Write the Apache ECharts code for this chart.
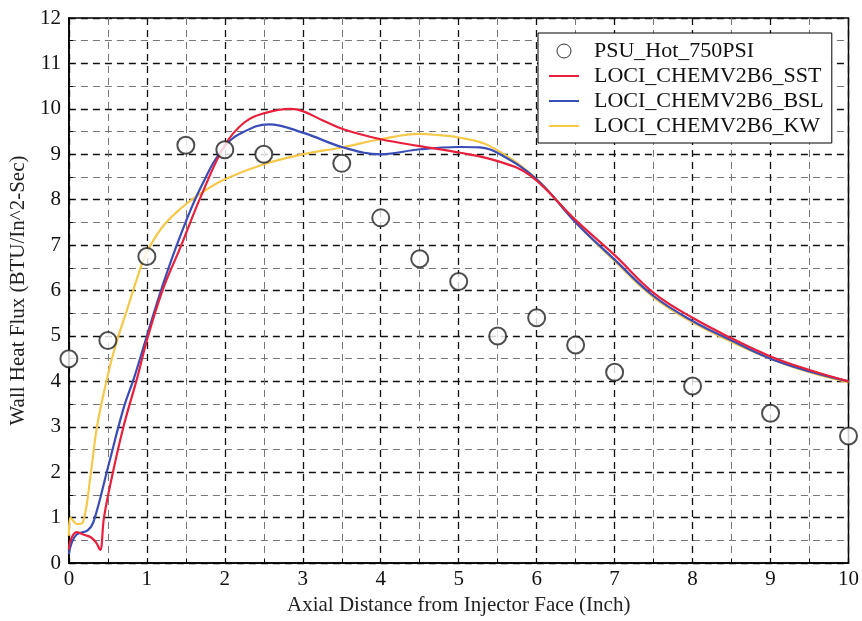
<!DOCTYPE html>
<html><head><meta charset="utf-8">
<script src="https://cdn.jsdelivr.net/npm/echarts@6/dist/echarts.min.js"></script>
<style>html,body{margin:0;padding:0;background:#fff}#c{width:862px;height:621px}</style>
</head><body><div id="c"></div>
<script>
var expX = [0,0.5,1,1.5,2,2.5,3.5,4,4.5,5,5.5,6,6.5,7,8,9,10];
var expY = [4.5,4.9,6.75,9.2,9.1,9.0,8.8,7.6,6.7,6.2,5.0,5.4,4.8,4.2,3.9,3.3,2.8];

var sstX = [0,0.02,0.1,0.2,0.28,0.35,0.4,0.45,0.54,0.7,0.88,1.0,1.2,1.43,1.7,2.0,2.25,2.5,2.84,3.0,3.25,3.52,4.0,4.5,5.0,5.5,5.92,6.5,7.0,7.5,8.0,8.5,9.0,9.5,10];
var sstY = [0.3,0.5,0.68,0.62,0.57,0.45,0.29,1.0,1.8,3.0,4.1,4.9,6.0,6.95,8.1,9.2,9.7,9.9,10.0,9.95,9.75,9.55,9.33,9.18,9.04,8.85,8.53,7.55,6.78,5.95,5.4,4.95,4.55,4.25,4.0];

var bslX = [0,0.03,0.1,0.24,0.32,0.5,0.7,0.84,1.0,1.2,1.43,1.7,2.0,2.25,2.56,3.01,3.52,4.0,4.5,5.0,5.27,5.53,6.0,6.5,7.0,7.5,8.0,8.5,9.0,9.5,10];
var bslY = [0.2,0.42,0.63,0.72,0.93,2.1,3.4,4.1,5.0,6.1,7.21,8.3,9.18,9.5,9.66,9.47,9.15,9.0,9.11,9.16,9.15,9.0,8.45,7.5,6.68,5.88,5.33,4.9,4.5,4.22,4.0];

var kwX = [0,0.02,0.11,0.18,0.28,0.36,0.49,0.6,0.75,0.9,1.0,1.2,1.43,1.7,2.0,2.5,3.0,3.5,4.0,4.5,4.75,5.0,5.4,6.0,6.5,7.0,7.5,8.0,8.5,9.0,9.5,10];
var kwY = [0.6,1.0,0.86,0.9,1.96,3.0,4.07,4.8,5.6,6.4,6.85,7.4,7.8,8.15,8.45,8.78,9.0,9.15,9.33,9.45,9.42,9.37,9.18,8.45,7.5,6.65,5.85,5.3,4.87,4.5,4.2,3.98];

var names = ['PSU_Hot_750PSI','LOCI_CHEMV2B6_SST','LOCI_CHEMV2B6_BSL','LOCI_CHEMV2B6_KW'];
var xTicks = [0,1,2,3,4,5,6,7,8,9,10];
var yTicks = [0,1,2,3,4,5,6,7,8,9,10,11,12];

function pairs(xs, ys){ return xs.map(function(x,i){ return [x, ys[i]]; }); }

var font = 'Liberation Serif';
var chart = echarts.init(document.getElementById('c'), null, {renderer:'canvas'});
function axis(name, ticks, isY){
  return {
    type:'value', min:ticks[0], max:ticks[ticks.length-1], interval:1,
    name:name, nameLocation:'middle', nameGap: isY ? 36 : 30,
    nameTextStyle:{fontFamily:font, fontSize:21, color:'#222'},
    axisLine:{show:true, lineStyle:{color:'#000', width:1.5}},
    axisTick:{show:true, inside:true, length:5, lineStyle:{color:'#000'}},
    minorTick:{show:true, splitNumber:2, length:4, lineStyle:{color:'#000'}},
    axisLabel:{fontFamily:font, fontSize:21, color:'#111', margin: isY ? 8 : 6},
    splitLine:{show:true, lineStyle:{color:'#111', type:[7,5], width:1.3}},
    minorSplitLine:{show:true, lineStyle:{color:'#777', type:[7,5], width:1}}
  };
}
chart.setOption({
  animation:false,
  backgroundColor:'#fff',
  grid:{left:68, right:13, top:18, bottom:55, show:true, borderColor:'#000', borderWidth:1.5, backgroundColor:'transparent'},
  xAxis: axis('Axial Distance from Injector Face (Inch)', xTicks, false),
  yAxis: axis('Wall Heat Flux (BTU/In^2-Sec)', yTicks, true),
  legend:{
    orient:'vertical', left:538, top:33,
    backgroundColor:'#fff', borderColor:'#000', borderWidth:1, padding:[7,8,6,10],
    itemWidth:30, itemHeight:14, itemGap:3,
    textStyle:{fontFamily:font, fontSize:22, color:'#111', padding:[0,0,0,10]},
    data:[
      {name:names[0], icon:'circle', itemStyle:{color:'transparent', borderColor:'#000', borderWidth:1}},
      {name:names[1], itemStyle:{opacity:0}},
      {name:names[2], itemStyle:{opacity:0}},
      {name:names[3], itemStyle:{opacity:0}}
    ]
  },
  series:[
    {name:names[0], type:'scatter', data:pairs(expX, expY), symbol:'emptyCircle', symbolSize:17,
     itemStyle:{color:'#222', borderColor:'#222', borderWidth:1.2}, z:5},
    {name:names[3], type:'line', data:pairs(kwX, kwY), smooth:0.4, symbol:'none', color:'#f5c84a', lineStyle:{width:2.2}},
    {name:names[2], type:'line', data:pairs(bslX, bslY), smooth:0.4, symbol:'none', color:'#3a4cb5', lineStyle:{width:2.2}},
    {name:names[1], type:'line', data:pairs(sstX, sstY), smooth:0.4, symbol:'none', color:'#e8203c', lineStyle:{width:2.2}}
  ]
});
</script></body></html>
